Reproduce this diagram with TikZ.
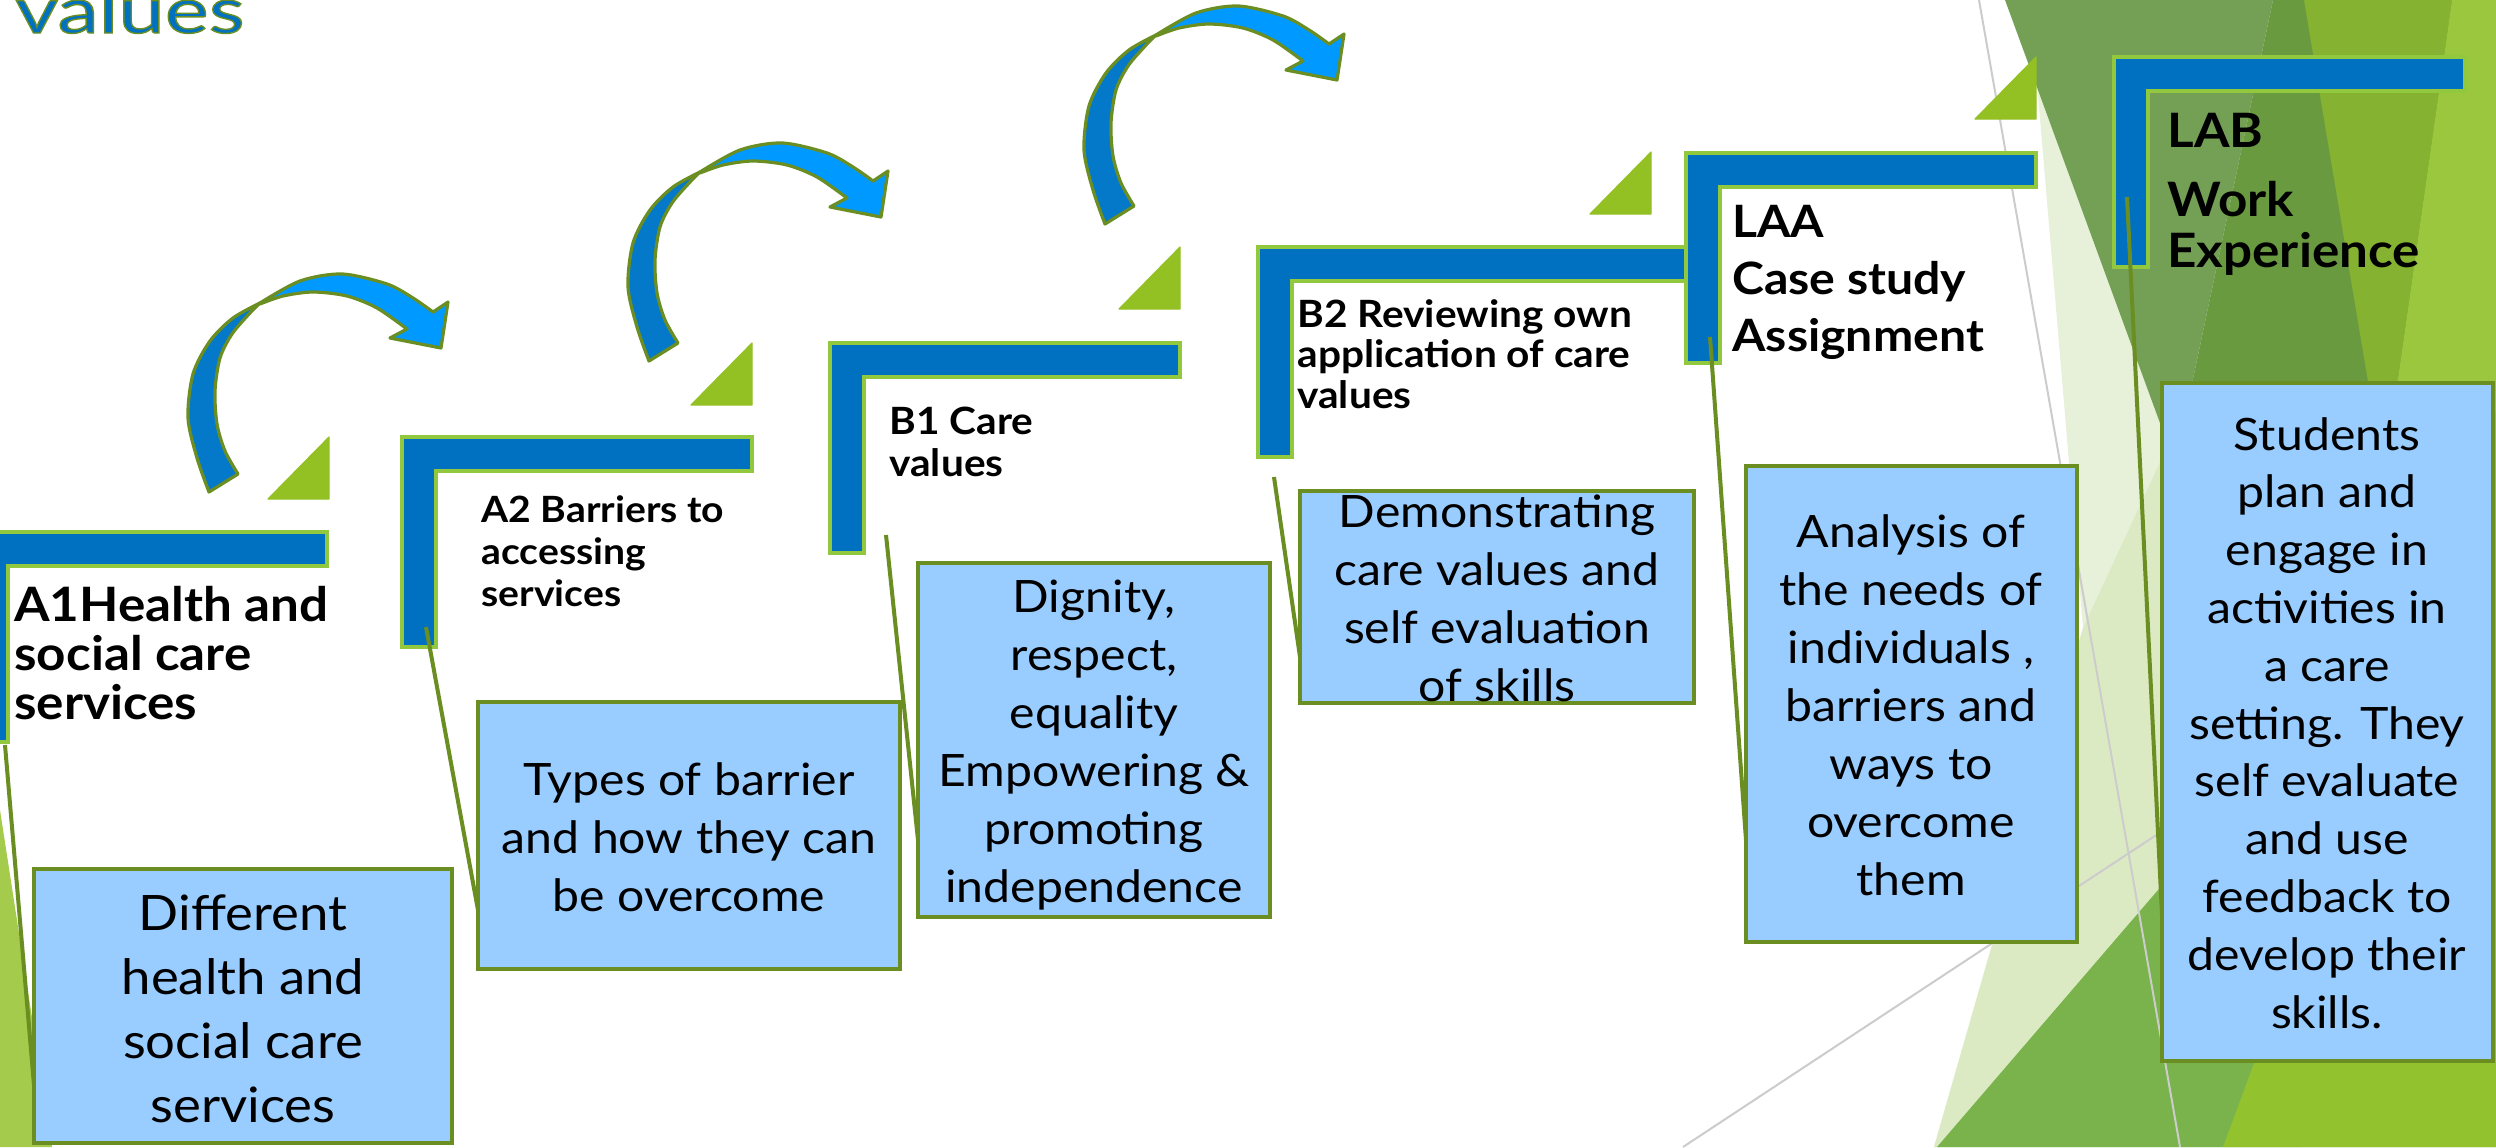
\documentclass[tikz,border=0pt]{standalone}
\usepackage{fontspec}
\setmainfont{Lato}[FakeStretch=1.08]
\newfontfamily\titlefont{Lato}[FakeStretch=1.3]
\definecolor{brblue}{HTML}{0070C0}
\definecolor{brgreen}{HTML}{92C83E}
\definecolor{trigreen}{HTML}{93C124}
\definecolor{boxfill}{HTML}{99CCFF}
\definecolor{oliveline}{HTML}{6B8E23}
\definecolor{arrdark}{HTML}{0479C9}
\definecolor{arrlight}{HTML}{0099FF}
\definecolor{bgpaleA}{HTML}{E7F0D9}
\definecolor{bgpaleB}{HTML}{DCEAC4}
\definecolor{bgdark}{HTML}{6A9A3F}
\definecolor{bgmuted}{HTML}{74A055}
\definecolor{bgolive}{HTML}{86B232}
\definecolor{bglight}{HTML}{9BC73F}
\definecolor{bgmedium}{HTML}{7AB34B}
\definecolor{bgyellow}{HTML}{93C22F}
\definecolor{bgleft}{HTML}{A4CB4C}
\tikzset{
  stepbracket/.style={fill=brblue, draw=brgreen, line width=1.75pt, line join=miter},
  tri/.style={fill=trigreen, draw=trigreen, line width=0.6pt, line join=round},
  infobox/.style={draw=oliveline, fill=boxfill, line width=2pt, inner sep=0pt},
  conn/.style={draw=oliveline, line width=2pt},
  boxtext/.style={anchor=base, align=center, inner sep=0pt, font=\fontsize{22.3}{29}\selectfont},
  steplabel/.style={anchor=base west, align=left, inner sep=0pt},
  arrowband/.style={draw=oliveline, line width=1.6pt, line join=round},
  greyline/.style={draw=black!20, line width=1pt}
}
\newcommand\stepshape[3]{%
  \draw[stepbracket] (#1,#2) -- (#3,#2) -- (#3,#2+34) -- (#1+34,#2+34) -- (#1+34,#2+210) -- (#1,#2+210) -- cycle;}
\newcommand\stepwedge[2]{%
  \draw[tri] (#1-61,#2+62) -- (#1,#2+62) -- (#1,#2) -- cycle;}
\newcommand\curvedarrowshape[2]{%
  \begin{scope}[shift={(#1,#2)}]
    \filldraw[arrowband, fill=arrdark] plot[smooth] coordinates {(649,361) (637,327) (628,287) (633,243) (650,210) (673,187) (700,172)}
      -- plot[smooth] coordinates {(700,172) (690,182) (672,203) (660,227) (655,260) (657,293) (665,320) (678,343)} -- cycle;
    \filldraw[arrowband, fill=arrlight] plot[smooth] coordinates {(700,172) (740,150) (782,143) (827,153) (853,167) (873,181)}
      -- (888,171) -- (881,217) -- (830,207)
      -- plot[smooth] coordinates {(847,198) (817,177) (787,165) (753,161) (723,165) (700,173)} -- cycle;
  \end{scope}}
\newcommand\outlinedtitle[1]{\special{pdf:literal direct 2 Tr 0.7 w 0.42 0.557 0.137 RG}#1\special{pdf:literal direct 0 Tr}}
\begin{document}
\begin{tikzpicture}[x=0.5pt,y=-0.5pt]
\useasboundingbox (0,0) rectangle (2496,1147);
\fill[white] (0,0) rectangle (2496,1147);
% background facets
\fill[bgpaleA] (2030,0) -- (2083,628) -- (1934,1147) -- (2496,1147) -- (2496,0) -- cycle;
\fill[bgpaleB] (2083,628) -- (2175,430) -- (2300,1147) -- (1934,1147) -- cycle;
\fill[bgdark] (2273,0) -- (2496,0) -- (2496,800) -- (2250,800) -- (2175,464) -- cycle;
\fill[bgmuted] (2005,0) -- (2273,0) -- (2175,464) -- cycle;
\fill[bgolive] (2304,0) -- (2452,0) -- (2384,477) -- cycle;
\fill[bglight] (2452,0) -- (2496,0) -- (2496,700) -- (2384,477) -- cycle;
\fill[bgmedium] (1937,1147) -- (2496,497) -- (2496,1147) -- cycle;
\fill[bgyellow] (2223,1147) -- (2496,410) -- (2496,1147) -- cycle;
\fill[bgleft] (0,810) -- (52,1147) -- (0,1147) -- cycle;
\draw[greyline] (1979,0) -- (2180,1147);
\draw[greyline] (1683,1147) -- (2170,826);
% title
\node[anchor=base west, inner sep=0pt, text=brblue, font=\titlefont\fontsize{32}{32}\selectfont] (title) at (15,33) {\outlinedtitle{values}};
% curved arrows
\curvedarrowshape{-440}{131}
\curvedarrowshape{0}{0}
\curvedarrowshape{456}{-137}
% wedges
\stepwedge{329}{437}
\stepwedge{752}{343}
\stepwedge{1180}{247}
\stepwedge{1651}{152}
\stepwedge{2036}{57}
% step brackets
\stepshape{-26}{532}{327}
\stepshape{402}{437}{752}
\stepshape{830}{343}{1180}
\stepshape{1258}{247}{1688}
\stepshape{1686}{153}{2036}
\stepshape{2114}{57}{2465}
% step labels (anchored at the baseline of the last line)
\node[steplabel, font=\bfseries\fontsize{23.7}{24.5}\selectfont] (la1) at (14,719) {A1Health and\\social care\\services};
\node[steplabel, font=\bfseries\fontsize{18.1}{21}\selectfont] (la2) at (481,606) {A2 Barriers to\\accessing\\services};
\node[steplabel, font=\bfseries\fontsize{18.8}{21}\selectfont] (lb1) at (889,476) {B1 Care\\values};
\node[steplabel, font=\bfseries\fontsize{18.8}{20.25}\selectfont] (lb2) at (1297,408) {B2 Reviewing own\\application of care\\values};
\node[steplabel, font=\bfseries\fontsize{22.3}{28.5}\selectfont] (laa) at (1732,351) {LAA\\Case study\\Assignment};
\node[steplabel, font=\bfseries\fontsize{23.7}{25.5}\selectfont] (lab) at (2167,267) {LAB\\[9pt]Work\\Experience};
% connector ends
\coordinate (s1) at (5,745);     \coordinate (e1) at (34,1085);
\coordinate (s2) at (426,627);   \coordinate (e2) at (478,910);
\coordinate (s3) at (886,535);   \coordinate (e3) at (918,840);
\coordinate (s4) at (1274,477);  \coordinate (e4) at (1300,657);
\coordinate (s5) at (1710,337);  \coordinate (e5) at (1746,840);
\coordinate (s6) at (2127,197);  \coordinate (e6) at (2162,915);
\draw[conn] (s1) -- (e1);
\draw[conn] (s2) -- (e2);
\draw[conn] (s3) -- (e3);
\draw[conn] (s4) -- (e4);
\draw[conn] (s5) -- (e5);
\draw[conn] (s6) -- (e6);
% boxes
\node[infobox, minimum width=209pt, minimum height=137pt] (d1) at (243,1006) {};
\node[infobox, minimum width=211pt, minimum height=133.5pt] (ty) at (689,835.5) {};
\node[infobox, minimum width=176pt, minimum height=177pt] (dg) at (1094,740) {};
\node[infobox, minimum width=197pt, minimum height=106pt] (dm) at (1497,597) {};
\node[infobox, minimum width=165.5pt, minimum height=238pt] (an) at (1911.5,704) {};
\node[infobox, minimum width=165.5pt, minimum height=339pt] (st) at (2327.5,722) {};
% box texts (anchored at the baseline of the last line)
\node[boxtext, font=\fontsize{24.4}{32}\selectfont] (td1) at (243,1122) {Different\\health and\\social care\\services};
\node[boxtext] (tty) at (689,911) {Types of barrier\\and how they can\\be overcome};
\node[boxtext] (tdg) at (1094,902) {Dignity,\\respect,\\equality\\Empowering \&\\promoting\\independence};
\node[boxtext] (tdm) at (1497,701) {Demonstrating\\care values and\\self evaluation\\of skills};
\node[boxtext] (tan) at (1911,895) {Analysis of\\the needs of\\individuals ,\\barriers and\\ways to\\overcome\\them};
\node[boxtext, font=\fontsize{22.3}{28.9}\selectfont] (tst) at (2327,1028) {Students\\plan and\\engage in\\activities in\\a care\\setting. They\\self evaluate\\and use\\feedback to\\develop their\\skills.};
\end{tikzpicture}
\end{document}
